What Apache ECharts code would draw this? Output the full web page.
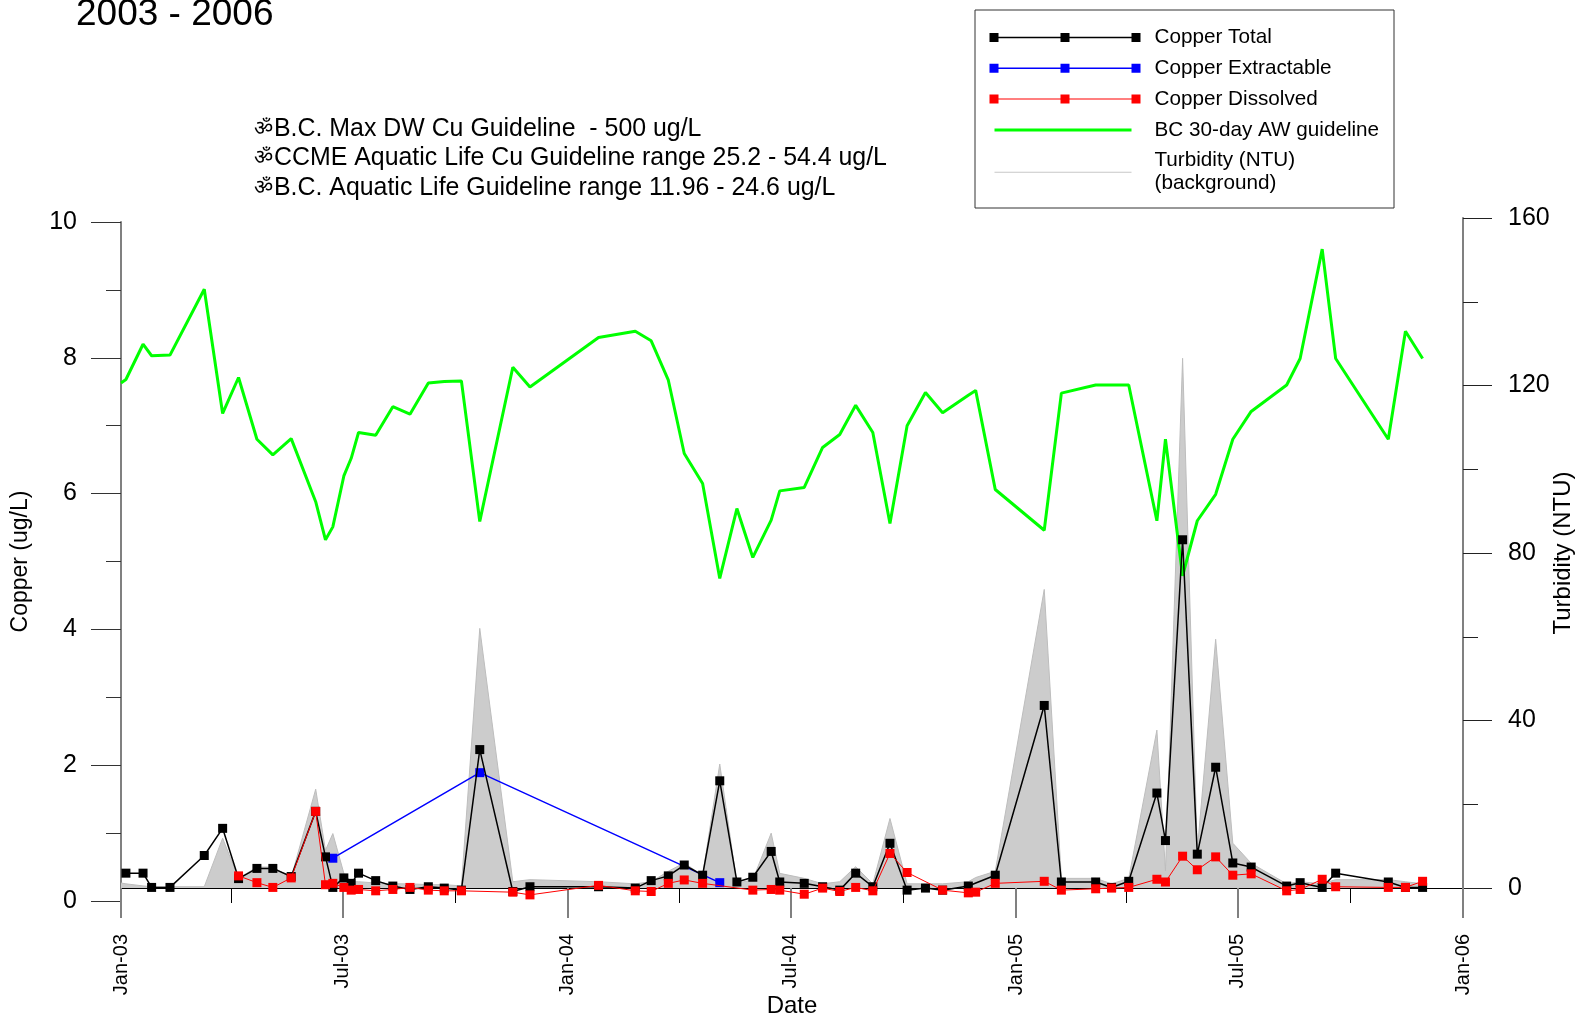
<!DOCTYPE html>
<html><head><meta charset="utf-8">
<script src="https://cdn.jsdelivr.net/npm/echarts@6/dist/echarts.min.js"></script>
<style>html,body{margin:0;padding:0;background:#fff}#c{width:1583px;height:1016px}</style>
</head><body><div id="c"></div>
<script>
const FONT = '"Liberation Sans", Arial, sans-serif';

const dates = [
  '2003-01-01','2003-01-05','2003-01-19','2003-01-26','2003-02-10','2003-03-10','2003-03-25','2003-04-07','2003-04-22','2003-05-05',
  '2003-05-20','2003-06-09','2003-06-17','2003-06-23','2003-07-02','2003-07-08','2003-07-14','2003-07-28','2003-08-11','2003-08-25',
  '2003-09-09','2003-09-22','2003-10-06','2003-10-21','2003-11-17','2003-12-01',
  '2004-01-26','2004-02-25','2004-03-09','2004-03-23','2004-04-05','2004-04-20','2004-05-04','2004-05-18','2004-05-31','2004-06-15',
  '2004-06-22','2004-07-12','2004-07-27','2004-08-10','2004-08-23','2004-09-06','2004-09-20','2004-10-04','2004-10-19','2004-11-02',
  '2004-11-23','2004-11-29','2004-12-15',
  '2005-01-24','2005-02-07','2005-03-07','2005-03-20','2005-04-03','2005-04-26','2005-05-03','2005-05-17','2005-05-29','2005-06-13',
  '2005-06-27','2005-07-12','2005-08-10','2005-08-21','2005-09-08','2005-09-19','2005-11-01','2005-11-15','2005-11-29'
];

const copperTotal = [
  null,0.41,0.41,0.20,0.20,0.67,1.07,0.33,0.48,0.48,
  0.36,1.32,0.65,0.20,0.34,0.26,0.41,0.30,0.22,0.17,
  0.21,0.19,0.16,2.23,0.14,0.21,
  0.21,0.19,0.30,0.37,0.53,0.38,1.77,0.28,0.35,0.73,
  0.28,0.26,0.21,0.16,0.41,0.21,0.85,0.16,0.19,0.16,
  0.22,null,0.38,
  2.88,0.28,0.28,0.20,0.29,1.59,0.89,5.32,0.69,1.97,
  0.56,0.50,0.22,0.27,0.20,0.41,0.28,0.20,0.20
];

const copperExtractable = [
  null,null,null,null,null,null,null,null,null,null,
  null,null,null,0.63,null,null,null,null,null,null,
  null,null,null,1.89,null,null,
  null,null,null,null,null,null,0.27,null,null,null,
  null,null,null,null,null,null,null,null,null,null,
  null,null,null,
  null,null,null,null,null,null,null,null,null,null,
  null,null,null,null,null,null,null,null,null
];

const copperDissolved = [
  null,null,null,null,null,null,null,0.37,0.27,0.20,
  0.34,1.32,0.24,0.26,0.20,0.16,0.17,0.15,0.17,0.20,
  0.16,0.15,0.15,null,0.13,0.09,
  0.23,0.15,0.14,0.26,0.31,0.26,null,null,0.16,0.17,
  0.16,0.10,0.19,0.14,0.20,0.15,0.70,0.42,null,0.16,
  0.12,0.13,0.26,
  0.29,0.16,0.18,0.19,0.20,0.32,0.28,0.66,0.46,0.65,
  0.38,0.40,0.15,0.17,0.32,0.21,0.20,0.20,0.29
];

const bcGuideline = [
  7.63,7.68,8.20,8.03,8.04,9.01,7.18,7.71,6.80,6.57,
  6.81,5.88,5.32,5.51,6.26,6.52,6.90,6.86,7.28,7.17,
  7.63,7.65,7.66,5.59,7.86,7.57,
  8.30,8.39,8.25,7.67,6.59,6.15,4.75,5.78,5.06,5.61,
  6.04,6.09,6.68,6.87,7.30,6.90,5.56,7.00,7.49,7.19,
  7.45,7.52,6.06,
  5.46,7.48,7.60,7.60,7.60,5.60,6.80,4.79,5.60,5.99,
  6.80,7.21,7.60,7.99,9.60,7.99,6.80,8.39,7.99
];

const turbidity = [
  1.2,1.0,0.5,0.3,0.3,0.3,11.9,2.3,5.0,5.0,
  2.5,23.6,9.0,13.0,3.5,1.5,1.5,1.2,1.0,1.0,
  0.8,0.8,0.5,62.0,1.5,2.0,
  1.5,1.0,1.5,4.0,6.0,3.0,29.6,1.1,2.0,13.1,
  3.5,2.3,1.0,1.5,5.1,1.0,16.6,1.0,1.0,1.0,
  1.5,2.5,4.0,
  71.3,2.3,2.3,1.0,2.3,37.7,4.1,126.5,9.0,59.4,
  10.7,5.9,1.0,1.5,1.0,2.0,2.0,1.5,1.0
];

const majorTickDates = ['2003-01-01','2003-07-01','2004-01-01','2004-07-01','2005-01-01','2005-07-01','2006-01-01'];
const minorTickDates = ['2003-04-01','2003-10-01','2004-04-01','2004-10-01','2005-04-01','2005-10-01'];
const monthNames = ['Jan','Feb','Mar','Apr','May','Jun','Jul','Aug','Sep','Oct','Nov','Dec'];

const titleText = '2003 - 2006';
const annotationBullet = '\u0950';
const annotations = [
  'B.C. Max DW Cu Guideline  - 500 ug/L',
  'CCME Aquatic Life Cu Guideline range 25.2 - 54.4 ug/L',
  'B.C. Aquatic Life Guideline range 11.96 - 24.6 ug/L'
];
const seriesNames = ['Copper Total','Copper Extractable','Copper Dissolved','BC 30-day AW guideline','Turbidity (NTU)\n(background)'];

const DAY = 86400000;
function utc(s) { const p = s.split('-').map(Number); return Date.UTC(p[0], p[1]-1, p[2]); }
const origin = utc('2003-01-01');
function dayNum(s) { return Math.round((utc(s) - origin) / DAY); }
function pairs(arr) { return dates.map((d,i)=>[dayNum(d), arr[i]]).filter(p => p[1] !== null); }
function fmtDay(v) { const d = new Date(origin + Math.round(v) * DAY); return monthNames[d.getUTCMonth()] + '-' + String(d.getUTCFullYear()).slice(2); }

const xMin = dayNum('2003-01-01'), xMax = dayNum('2006-01-01');
const majorTicks = majorTickDates.map(dayNum);
const minorTicks = minorTickDates.map(dayNum);

const EXT = ' M0,0L0.05,0L0,0.05Z M159.95,9L160,9L160,8.95Z';
const markerIcon = (t) => 'path://M0,0h9v9h-9z M71,0h9v9h-9z M142,0h9v9h-9z M0,' + (4.5 - t/2) + 'h151v' + t + 'h-151z' + EXT;
const lineIcon = (t) => 'path://M5,' + (4.5 - t/2) + 'h137v' + t + 'h-137z' + EXT;

const chart = echarts.init(document.getElementById('c'), null, {renderer: 'canvas'});

const graphics = [
  {type:'text', x: 76, y: 15, style:{text: titleText, font: '37px ' + FONT, fill:'#000', verticalAlign:'middle', align:'left'}},
  {type:'rect', shape:{x:975, y:10, width:419, height:198}, style:{fill:'none', stroke:'#333', lineWidth:1}}
];
const annY = [129, 158.5, 188];
annotations.forEach((t, i) => {
  graphics.push({type:'text', x: 254, y: annY[i], style:{text: annotationBullet, font: '21px ' + FONT, fill:'#000', verticalAlign:'middle', align:'left'}});
  graphics.push({type:'text', x: 274, y: annY[i], style:{text: t, font: '24.9px ' + FONT, fill:'#000', verticalAlign:'middle', align:'left'}});
});

chart.setOption({
  animation: false,
  backgroundColor: '#fff',
  textStyle: {fontFamily: FONT},
  grid: [
    {left: 121, right: 120, top: 222, bottom: 115, outerBoundsMode: 'none', containLabel: false},
    {left: 121, right: 120, top: 218, bottom: 128, outerBoundsMode: 'none', containLabel: false}
  ],
  legend: {
    orient: 'vertical', left: 989.5, top: 26, padding: 0,
    itemWidth: 160, itemHeight: 9, itemGap: 7.8, selectedMode: false,
    itemStyle: {borderWidth: 0},
    textStyle: {fontSize: 20.7, color: '#000', fontFamily: FONT, lineHeight: 23},
    data: [
      {name: seriesNames[0], icon: markerIcon(1.5)},
      {name: seriesNames[1], icon: markerIcon(1.5)},
      {name: seriesNames[2], icon: markerIcon(1)},
      {name: seriesNames[3], icon: lineIcon(3)},
      {name: seriesNames[4], icon: lineIcon(1)}
    ]
  },
  xAxis: [
    {gridIndex: 0, type: 'value', min: xMin, max: xMax, show: false, axisLine: {onZero: false}},
    {gridIndex: 1, type: 'value', min: xMin, max: xMax, position: 'bottom',
      axisLine: {show: true, onZero: false, lineStyle: {color: '#000', width: 1}},
      axisTick: {show: true, customValues: majorTicks, length: 30, lineStyle: {color: '#808080', width: 2}},
      axisLabel: {show: true, customValues: majorTicks, rotate: 90, margin: 46, fontSize: 20, color: '#000', fontFamily: FONT, formatter: fmtDay},
      splitLine: {show: false},
      name: 'Date', nameLocation: 'middle', nameGap: 106, nameMoveOverlap: false,
      nameTextStyle: {fontSize: 24, color: '#000', fontFamily: FONT}
    },
    {gridIndex: 1, type: 'value', min: xMin, max: xMax, position: 'bottom',
      axisLine: {show: false, onZero: false},
      axisTick: {show: true, customValues: minorTicks, length: 15, lineStyle: {color: '#000', width: 1}},
      axisLabel: {show: false}, splitLine: {show: false}
    }
  ],
  yAxis: [
    {gridIndex: 0, type: 'value', min: 0, max: 10, interval: 2, position: 'left',
      axisLine: {show: true, onZero: false, lineStyle: {color: '#808080', width: 2}},
      axisTick: {show: true, length: 30, lineStyle: {color: '#333', width: 1}},
      minorTick: {show: true, splitNumber: 2, length: 15, lineStyle: {color: '#333', width: 1}},
      axisLabel: {margin: 44, fontSize: 25, color: '#000', fontFamily: FONT},
      splitLine: {show: false}, minorSplitLine: {show: false},
      name: 'Copper (ug/L)', nameLocation: 'middle', nameGap: 89, nameRotate: 90, nameMoveOverlap: false,
      nameTextStyle: {fontSize: 23, color: '#000', fontFamily: FONT}
    },
    {gridIndex: 1, type: 'value', min: 0, max: 160, interval: 40, position: 'right',
      axisLine: {show: true, onZero: false, lineStyle: {color: '#808080', width: 2}},
      axisTick: {show: true, length: 29, lineStyle: {color: '#222', width: 1}},
      minorTick: {show: true, splitNumber: 2, length: 15, lineStyle: {color: '#222', width: 1}},
      axisLabel: {margin: 45, fontSize: 25, color: '#000', fontFamily: FONT},
      splitLine: {show: false}, minorSplitLine: {show: false},
      name: 'Turbidity (NTU)', nameLocation: 'middle', nameGap: 88, nameRotate: 90, nameMoveOverlap: false,
      nameTextStyle: {fontSize: 24, color: '#000', fontFamily: FONT}
    }
  ],
  series: [
    {name: seriesNames[4], type: 'line', xAxisIndex: 1, yAxisIndex: 1, data: pairs(turbidity),
      symbol: 'none', color: '#c8c8c8', lineStyle: {color: '#bdbdbd', width: 1},
      areaStyle: {color: '#cccccc', opacity: 1}, z: 1},
    {name: seriesNames[3], type: 'line', xAxisIndex: 0, yAxisIndex: 0, data: pairs(bcGuideline),
      symbol: 'none', color: '#00ff00', lineStyle: {color: '#00ff00', width: 3}, z: 2},
    {name: seriesNames[1], type: 'line', xAxisIndex: 0, yAxisIndex: 0, data: pairs(copperExtractable),
      symbol: 'rect', symbolSize: 9, color: '#0000ff', itemStyle: {color: '#0000ff'},
      lineStyle: {color: '#0000ff', width: 1.5}, z: 3},
    {name: seriesNames[0], type: 'line', xAxisIndex: 0, yAxisIndex: 0, data: pairs(copperTotal),
      symbol: 'rect', symbolSize: 9, color: '#000000', itemStyle: {color: '#000000'},
      lineStyle: {color: '#000000', width: 1.5}, z: 4},
    {name: seriesNames[2], type: 'line', xAxisIndex: 0, yAxisIndex: 0, data: pairs(copperDissolved),
      symbol: 'rect', symbolSize: 9, color: '#ff0000', itemStyle: {color: '#ff0000'},
      lineStyle: {color: '#ff0000', width: 1}, z: 5}
  ],
  graphic: graphics
});
</script></body></html>
